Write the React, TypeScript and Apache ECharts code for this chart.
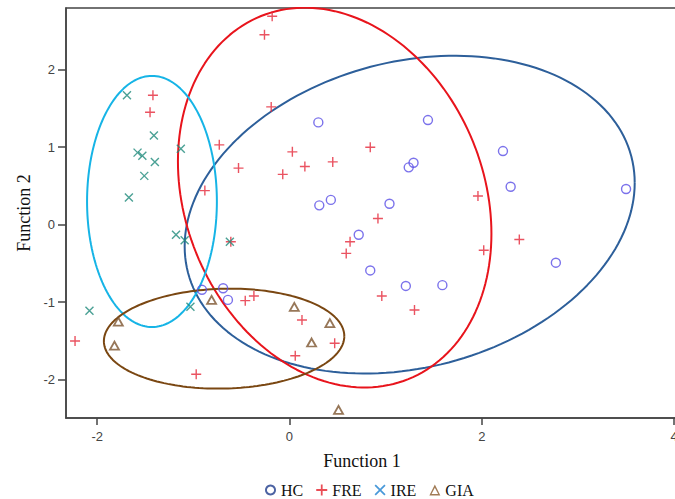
import React, { useEffect, useRef } from "react";
import * as echarts from "echarts";

const xTicks = [-2, 0, 2, 4];
const yTicks = [-2, -1, 0, 1, 2];
const groups = ["HC", "FRE", "IRE", "GIA"];

const hcPoints = [
  [0.3, 1.32], [1.44, 1.35], [1.24, 0.74], [1.29, 0.8], [0.31, 0.25], [0.43, 0.32],
  [1.04, 0.27], [2.22, 0.95], [2.3, 0.49], [3.5, 0.46], [2.77, -0.49], [0.72, -0.13],
  [0.84, -0.59], [1.21, -0.79], [1.59, -0.78], [-0.91, -0.84], [-0.69, -0.82], [-0.64, -0.97],
];
const frePoints = [
  [-0.18, 2.69], [-0.26, 2.45], [-1.42, 1.67], [-1.45, 1.45], [-0.19, 1.52], [-0.73, 1.03],
  [-0.53, 0.73], [-0.07, 0.65], [-0.88, 0.44], [0.03, 0.94], [0.16, 0.75], [0.45, 0.81],
  [0.84, 1.0], [1.96, 0.37], [0.92, 0.08], [2.39, -0.19], [2.02, -0.33], [0.63, -0.22],
  [0.59, -0.37], [0.96, -0.92], [1.3, -1.1], [0.13, -1.23], [0.47, -1.53], [0.06, -1.69],
  [-0.61, -0.22], [-0.46, -0.98], [-0.37, -0.92], [-2.23, -1.5], [-0.97, -1.93],
];
const irePoints = [
  [-1.69, 1.67], [-1.41, 1.15], [-1.58, 0.93], [-1.53, 0.89], [-1.4, 0.81], [-1.51, 0.63],
  [-1.67, 0.35], [-1.13, 0.98], [-1.18, -0.13], [-1.09, -0.2], [-0.62, -0.22], [-1.03, -1.06],
  [-2.08, -1.11],
];
const giaPoints = [
  [-1.78, -1.25], [-1.82, -1.56], [-0.81, -0.97], [0.05, -1.06], [0.42, -1.27], [0.23, -1.52],
  [0.51, -2.39],
];

// ellipse: [centerX, centerY, halfWidthX, halfHeightY, correlation]
const hcEllipse = [1.25, 0.13, 2.34, 2.05, 0.2];
const freEllipse = [0.47, 0.35, 1.63, 2.45, -0.19];
const ireEllipse = [-1.43, 0.3, 0.675, 1.62, 0];
const giaEllipse = [-0.68, -1.47, 1.25, 0.645, 0.05];

const markerColors = ["#5a4fe6", "#e5283a", "#1e8a7a", "#7d5530"];
const ellipseColors = ["#2d5f9a", "#e8141c", "#16b4e6", "#7a4712"];
const legendColors = ["#1f3c8c", "#e5202c", "#1a7fd0", "#8a5a2c"];

const markerPaths = [
  "path://M10,5A5,5 0 1,1 0,5A5,5 0 1,1 10,5Z",
  "path://M5,0L5,10M0,5L10,5",
  "path://M0,0L10,10M10,0L0,10",
  "path://M5,0L10,9L0,9Z",
];
const legendIcons = [
  "path://M5,0A5,5 0 1,1 4.99,0Z M5,1.8A3.2,3.2 0 1,0 5.01,1.8Z",
  "path://M4.2,0H5.8V4.2H10V5.8H5.8V10H4.2V5.8H0V4.2H4.2Z",
  "path://M0,1.1L1.1,0L5,3.9L8.9,0L10,1.1L6.1,5L10,8.9L8.9,10L5,6.1L1.1,10L0,8.9L3.9,5Z",
  "path://M5,0L10,10H0Z M5,3L2,8.6H8Z",
];

function ellipsePoints(e: number[]) {
  const [cx, cy, sx, sy, r] = e;
  const q = Math.sqrt(1 - r * r);
  const pts: number[][] = [];
  for (let i = 0; i <= 180; i++) {
    const t = (i / 180) * Math.PI * 2;
    pts.push([cx + sx * Math.cos(t), cy + sy * (r * Math.cos(t) + q * Math.sin(t))]);
  }
  return pts;
}

export default function App() {
  const ref = useRef<HTMLDivElement>(null);
  useEffect(() => {
    if (!ref.current) return;
    const chart = echarts.init(ref.current, null, { renderer: "svg" });
    const pointSets = [hcPoints, frePoints, irePoints, giaPoints];
    const ellipseSets = [hcEllipse, freEllipse, ireEllipse, giaEllipse];
    const axisColor = "#444";
    const series: any[] = [];
    ellipseSets.forEach((e, i) => {
      series.push({
        name: groups[i] + " ellipse",
        type: "line",
        data: ellipsePoints(e),
        showSymbol: false,
        symbol: "none",
        lineStyle: { color: ellipseColors[i], width: 2 },
        z: 2,
        silent: true,
      });
    });
    pointSets.forEach((p, i) => {
      series.push({
        name: groups[i],
        type: "scatter",
        data: p,
        symbol: markerPaths[i],
        symbolSize: i === 0 ? 9 : i === 3 ? [9, 8] : i === 2 ? 8 : 10,
        itemStyle: {
          color: "rgba(0,0,0,0)",
          borderColor: markerColors[i],
          borderWidth: i === 3 ? 1.8 : 1.4,
        },
        z: 3,
      });
    });
    chart.setOption({
      animation: false,
      backgroundColor: "#fff",
      grid: {
        left: 66,
        top: 8,
        right: 0,
        bottom: 81,
        show: true,
        borderColor: axisColor,
        borderWidth: 1.5,
        backgroundColor: "transparent",
      },
      legend: {
        data: groups.map((g, i) => ({
          name: g,
          icon: legendIcons[i],
          itemStyle: { color: legendColors[i], borderWidth: 0 },
        })),
        left: 265,
        top: 482,
        padding: 0,
        itemWidth: 11,
        itemHeight: 11,
        itemGap: 13,
        textStyle: { fontFamily: "Liberation Serif", fontSize: 16, lineHeight: 16, color: "#111" },
        selectedMode: false,
      },
      xAxis: {
        type: "value",
        min: -2.324,
        max: 4.217,
        name: "Function 1",
        nameLocation: "middle",
        nameGap: 34,
        nameTextStyle: { fontFamily: "Liberation Serif", fontSize: 18, color: "#111", padding: [0, 37, 0, 0] },
        axisLine: { show: true, onZero: false, lineStyle: { color: axisColor, width: 1.5 } },
        axisTick: { show: true, length: 7, customValues: xTicks, lineStyle: { color: axisColor, width: 1.5 } },
        axisLabel: { customValues: xTicks, margin: 12, fontFamily: "Liberation Sans", fontSize: 13, color: "#444" },
        splitLine: { show: false },
      },
      yAxis: {
        type: "value",
        min: -2.494,
        max: 2.796,
        name: "Function 2",
        nameLocation: "middle",
        nameGap: 27,
        nameTextStyle: { fontFamily: "Liberation Serif", fontSize: 18, color: "#111" },
        axisLine: { show: true, onZero: false, lineStyle: { color: axisColor, width: 1.5 } },
        axisTick: { show: true, length: 8, customValues: yTicks, lineStyle: { color: axisColor, width: 1.5 } },
        axisLabel: { customValues: yTicks, margin: 11, fontFamily: "Liberation Sans", fontSize: 13, color: "#444" },
        splitLine: { show: false },
      },
      series,
    });
    return () => chart.dispose();
  }, []);
  return (
    <div
      style={{ position: "fixed", left: 0, top: 0, width: 675, height: 499, overflow: "hidden", background: "#fff" }}
    >
      <div ref={ref} style={{ width: 695, height: 499 }} />
    </div>
  );
}
